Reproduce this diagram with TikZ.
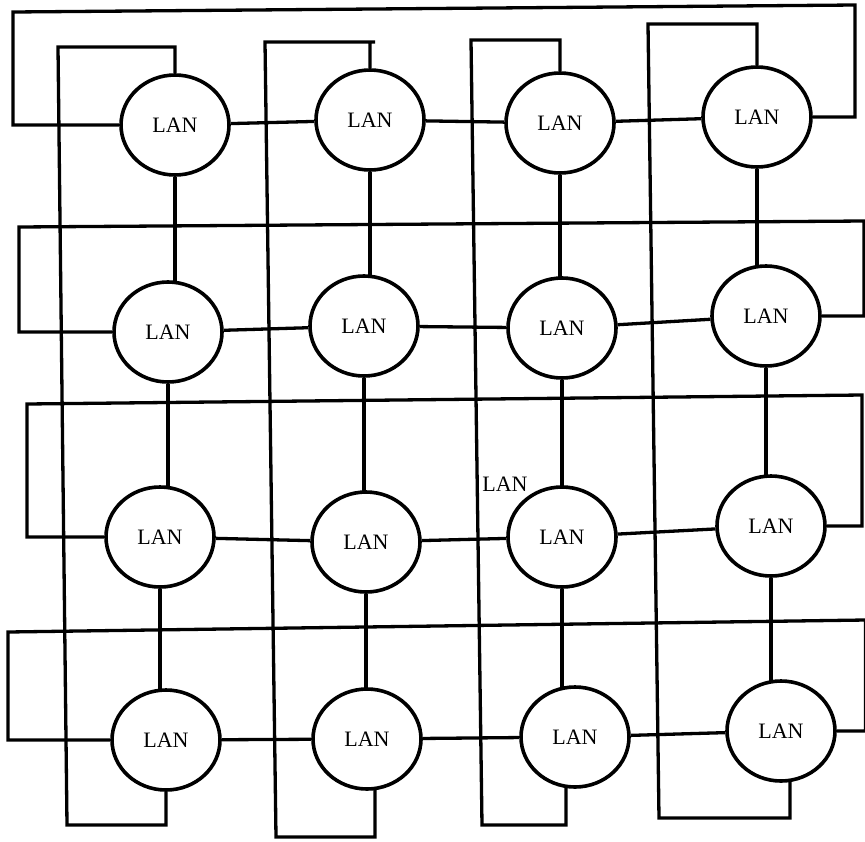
\documentclass[tikz,border=0pt]{standalone}
\usepackage{fontspec}
\setmainfont{Liberation Serif}
\usetikzlibrary{shapes.geometric,backgrounds}
\begin{document}
\begin{tikzpicture}[x=1pt,y=-1pt,
  lan/.style={ellipse,draw,line width=3.6pt,fill=white,minimum width=108pt,minimum height=100pt,inner sep=0pt,font=\fontsize{22}{24}\selectfont},
  lbl/.style={inner sep=0pt,font=\fontsize{22}{24}\selectfont},
  wire/.style={line width=3.3pt,line join=miter}]
\useasboundingbox (0,0) rectangle (865,841);
% nodes
\node[lan] (N11) at (175,125) {LAN};
\node[lan] (N12) at (370,120) {LAN};
\node[lan] (N13) at (560,123) {LAN};
\node[lan] (N14) at (757,117) {LAN};
\node[lan] (N21) at (168,332) {LAN};
\node[lan] (N22) at (364,326) {LAN};
\node[lan] (N23) at (562,328) {LAN};
\node[lan] (N24) at (766,316) {LAN};
\node[lan] (N31) at (160,537) {LAN};
\node[lan] (N32) at (366,542) {LAN};
\node[lan] (N33) at (562,537) {LAN};
\node[lan] (N34) at (771,526) {LAN};
\node[lan] (N41) at (166,740) {LAN};
\node[lan] (N42) at (367,739) {LAN};
\node[lan] (N43) at (575,737) {LAN};
\node[lan] (N44) at (781,731) {LAN};
\node[lbl] (extra) at (505,484) {LAN};
% wrap corners
\coordinate (r1tl) at (13,12);  \coordinate (r1tr) at (855,5);
\coordinate (r2tl) at (19,227); \coordinate (r2tr) at (864,221);
\coordinate (r3tl) at (27,404); \coordinate (r3tr) at (862,395);
\coordinate (r4tl) at (8,632);  \coordinate (r4tr) at (865.5,620);
\coordinate (c1t) at (58,47);   \coordinate (c1b) at (67,825);
\coordinate (c2t) at (265,42);  \coordinate (c2b) at (276,837); \coordinate (c2r) at (375,837); \coordinate (c2s) at (375,42);
\coordinate (c3t) at (471,40);  \coordinate (c3b) at (482,825); \coordinate (c3r) at (566,825);
\coordinate (c4t) at (648,24);  \coordinate (c4b) at (659,818); \coordinate (c4r) at (790,818);
\begin{pgfonlayer}{background}
\fill[white] (0,0) rectangle (865,841);
% row links
\draw[wire] (N11) -- (N12) -- (N13) -- (N14);
\draw[wire] (N21) -- (N22) -- (N23) -- (N24);
\draw[wire] (N31) -- (N32) -- (N33) -- (N34);
\draw[wire] (N41) -- (N42) -- (N43) -- (N44);
% row wraps
\draw[wire] (N11) -- (N11 -| r1tl) -- (r1tl) -- (r1tr) -- (N14 -| r1tr) -- (N14);
\draw[wire] (N21) -- (N21 -| r2tl) -- (r2tl) -- (r2tr) -- (N24 -| r2tr) -- (N24);
\draw[wire] (N31) -- (N31 -| r3tl) -- (r3tl) -- (r3tr) -- (N34 -| r3tr) -- (N34);
\draw[wire] (N41) -- (N41 -| r4tl) -- (r4tl) -- (r4tr) -- (N44 -| r4tr) -- (N44);
% column links
\draw[wire] (N11) -- (N11 |- N21);
\draw[wire] (N21) -- (N21 |- N31);
\draw[wire] (N31) -- (N31 |- N41);
\draw[wire] (N12) -- (N12 |- N22);
\draw[wire] (N22) -- (N22 |- N32);
\draw[wire] (N32) -- (N32 |- N42);
\draw[wire] (N13) -- (N13 |- N23);
\draw[wire] (N23) -- (N23 |- N33);
\draw[wire] (N33) -- (N33 |- N43);
\draw[wire] (N14) -- (N14 |- N24);
\draw[wire] (N24) -- (N24 |- N34);
\draw[wire] (N34) -- (N34 |- N44);
% column wraps
\draw[wire] (N11) -- (N11 |- c1t) -- (c1t) -- (c1b) -- (N41 |- c1b) -- (N41);
\draw[wire] (N12) -- (N12 |- c2s) -- (c2s) -- (c2t) -- (c2b) -- (c2r) -- (c2r |- N42) -- (N42);
\draw[wire] (N13) -- (N13 |- c3t) -- (c3t) -- (c3b) -- (c3r) -- (c3r |- N43);
\draw[wire] (N14) -- (N14 |- c4t) -- (c4t) -- (c4b) -- (c4r) -- (c4r |- N44);
\end{pgfonlayer}
\end{tikzpicture}
\end{document}
